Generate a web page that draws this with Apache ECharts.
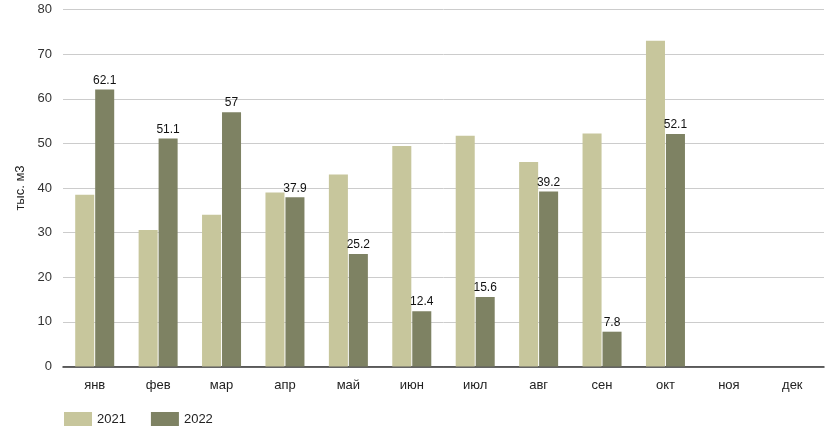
<!DOCTYPE html>
<html><head><meta charset="utf-8">
<script src="https://cdn.jsdelivr.net/npm/echarts@6/dist/echarts.min.js"></script>
<style>html,body{margin:0;padding:0;background:#fff}#c{width:832px;height:439px}</style>
</head><body><div id="c"></div>
<script>
const categories = ['янв','фев','мар','апр','май','июн','июл','авг','сен','окт','ноя','дек'];
const values2021 = [38.5, 30.6, 34, 39, 43, 49.4, 51.7, 45.8, 52.2, 73, null, null];
const values2022 = [62.1, 51.1, 57, 37.9, 25.2, 12.4, 15.6, 39.2, 7.8, 52.1, null, null];
const yTicks = [0, 10, 20, 30, 40, 50, 60, 70, 80];

const chart = echarts.init(document.getElementById('c'));
chart.setOption({
  animation: false,
  textStyle: { fontFamily: 'Liberation Sans, Arial, sans-serif' },
  grid: { left: 63, right: 8, top: 9.5, bottom: 72.5, containLabel: false },
  legend: {
    left: 59, bottom: 8, itemWidth: 28, itemHeight: 14, itemGap: 25,
    icon: 'rect',
    textStyle: { fontSize: 13, color: '#222' },
    data: ['2021', '2022']
  },
  xAxis: {
    type: 'category', data: categories,
    axisLine: { lineStyle: { color: '#333', width: 1.5 } },
    axisTick: { show: false },
    axisLabel: { fontSize: 13, color: '#222', margin: 12 }
  },
  yAxis: {
    type: 'value', min: yTicks[0], max: yTicks[yTicks.length - 1], interval: 10,
    name: 'тыс. м3', nameLocation: 'middle', nameRotate: 90, nameGap: 27,
    nameTextStyle: { fontSize: 13, color: '#222' },
    axisLine: { show: false }, axisTick: { show: false },
    axisLabel: { fontSize: 13, color: '#333', margin: 11 },
    splitLine: { lineStyle: { color: '#cccccc' } }
  },
  series: [
    { name: '2021', type: 'bar', data: values2021, barWidth: '30%', barGap: '5%',
      itemStyle: { color: '#c7c69c' } },
    { name: '2022', type: 'bar', data: values2022, barWidth: '30%', barGap: '5%',
      itemStyle: { color: '#7e8263' },
      label: { show: true, position: 'top', fontSize: 12, color: '#111', distance: 3 } }
  ]
});
</script></body></html>
